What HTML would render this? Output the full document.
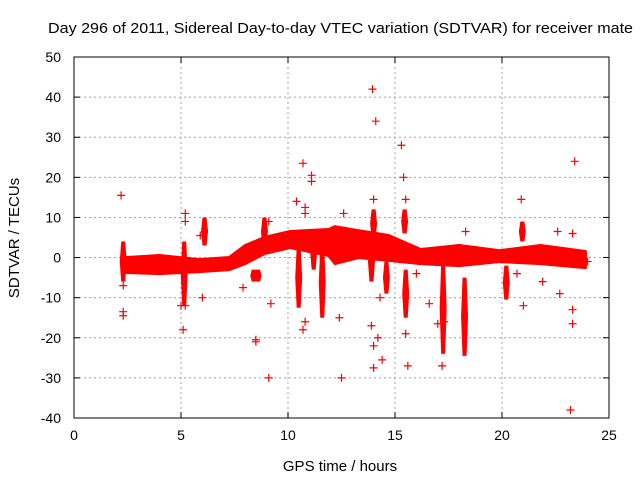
<!DOCTYPE html>
<html><head><meta charset="utf-8"><style>
body{margin:0;background:#fff;}
svg{display:block;font-family:"Liberation Sans",sans-serif;}
</style></head><body>
<svg id="chart" width="640" height="480">
<text x="48" y="33" font-size="15" textLength="585" lengthAdjust="spacingAndGlyphs" fill="#000">Day 296 of 2011, Sidereal Day-to-day VTEC variation (SDTVAR) for receiver mate</text>
<text x="340" y="471" font-size="15" text-anchor="middle">GPS time / hours</text>
<text transform="translate(19,238) rotate(-90)" font-size="15" text-anchor="middle">SDTVAR / TECUs</text>
<g id="grid"></g><g id="data"></g><g id="axes"></g>
</svg>
<script>
const xTicks=[0,5,10,15,20,25];
const yTicks=[50,40,30,20,10,0,-10,-20,-30,-40];
const bandTime=[2.25,2.4,4.0,5.85,7.25,8.0,8.9,10.1,11.9,12.2,13.3,14.7,16.2,18.0,19.9,21.8,23.9];
const bandHigh=[-0.5,0,0.5,-0.5,0,3,5,6.5,7,7.7,6.7,5.5,2,3,1.7,3,1.5];
const bandLow=[-3.5,-3.7,-4,-3.5,-3,-1.5,1,2.5,0.5,-1.5,0,-0.7,-1.5,-2,-1,-1.5,-2.5];
const streakTime=[2.3,5.15,6.1,8.4,8.6,8.9,10.5,11.6,14.0,15.45,14.6,15.5,17.25,18.25,20.2,20.95,11.2,13.9];
const streakHigh=[4,4,10,-3,-3,10,2.5,2.5,12,12,-1,-3,-1.5,-5,-2,9,6,4];
const streakLow=[-6,-12,3,-6,-6,3,-12.5,-15,5,6,-9,-15,-24,-24.5,-10.5,4,-3,-6];
const outT=[2.2,2.3,2.3,2.3,5.1,5.2,5.2,5.0,5.2,5.9,6.0,8.5,8.5,9.1,9.2,7.9,9.1,10.4,10.7,10.8,10.8,11.1,11.1,10.7,10.8,12.4,12.5,12.6,13.95,14.1,14.0,13.9,14.0,14.0,14.4,14.2,15.3,15.4,15.5,15.5,15.6,14.3,16.6,17.0,17.2,17.3,18.3,20.9,20.7,21.0,21.9,22.7,23.3,23.3,23.4,23.2,23.3,22.6,24.0,16.0,19.0];
const outV=[15.5,-13.5,-14.5,-7,-18,11,9,-12,-12,5.5,-10,-20.5,-21,-30,-11.5,-7.5,9,14,23.5,12.5,11,20.5,19,-18,-16,-15,-30,11,42,34,14.5,-17,-22,-27.5,-25.5,-20,28,20,14.5,-19,-27,-10,-11.5,-16.5,-27,-16,6.5,14.5,-4,-12,-6,-9,-13,-16.5,24,-38,6,6.5,-1,-4,1.5];
const L=74,R=609,T=57,B=418;
const xs=t=>L+(t/25)*(R-L);
const ys=v=>T+(50-v)/90*(B-T);
const NS='http://www.w3.org/2000/svg';
function mk(tag,attrs,parent){const e=document.createElementNS(NS,tag);for(const k in attrs)e.setAttribute(k,attrs[k]);parent.appendChild(e);return e;}
const grid=document.getElementById('grid'),data=document.getElementById('data'),axes=document.getElementById('axes');
xTicks.forEach(t=>{
  if(t>0&&t<25){const g=mk('line',{x1:xs(t),x2:xs(t),y1:T,y2:B,stroke:'#a0a0a0','stroke-dasharray':'2,3'},grid);
  
  }
  const lb=mk('text',{x:xs(t),y:B+22,'font-size':14,'text-anchor':'middle'},axes);lb.textContent=t;
  
  
  mk('line',{x1:xs(t),x2:xs(t),y1:B,y2:B-6,stroke:'#000'},axes);
  mk('line',{x1:xs(t),x2:xs(t),y1:T,y2:T+6,stroke:'#000'},axes);
});
yTicks.forEach(v=>{
  if(v<50&&v>-40){const g=mk('line',{x1:L,x2:R,y1:ys(v),y2:ys(v),stroke:'#a0a0a0','stroke-dasharray':'2,3'},grid);
  
  }
  const lb=mk('text',{x:L-13,y:ys(v)+5,'font-size':14,'text-anchor':'end'},axes);lb.textContent=v;
  
  
  mk('line',{x1:L,x2:L+6,y1:ys(v),y2:ys(v),stroke:'#000'},axes);
  mk('line',{x1:R,x2:R-6,y1:ys(v),y2:ys(v),stroke:'#000'},axes);
});
const border=mk('rect',{x:L,y:T,width:R-L,height:B-T,fill:'none',stroke:'#000'},axes);


let pts=bandTime.map((t,i)=>xs(t)+','+ys(bandHigh[i]));
for(let i=bandTime.length-1;i>=0;i--)pts.push(xs(bandTime[i])+','+ys(bandLow[i]));
const band=mk('polygon',{points:pts.join(' '),fill:'#ff0000',stroke:'#ff0000','stroke-width':3,'stroke-linejoin':'round'},data);


streakTime.forEach((t,i)=>{
  const x=xs(t),y1=ys(streakHigh[i]),y2=ys(streakLow[i]);
  const r=mk('path',{d:`M${x-2},${y1} L${x+2},${y1} L${x+3.5},${(y1+y2)/2} L${x+2},${y2} L${x-2},${y2} L${x-3.5},${(y1+y2)/2} Z`,fill:'#ff0000'},data);
  
  
});
outT.forEach((t,i)=>{
  const x=xs(t),y=ys(outV[i]);
  const p=mk('path',{d:`M${x-4},${y}H${x+4}M${x},${y-4}V${y+4}`,stroke:'#ff0000','stroke-width':1.2},data);
  
  
});
</script>
</body></html>
